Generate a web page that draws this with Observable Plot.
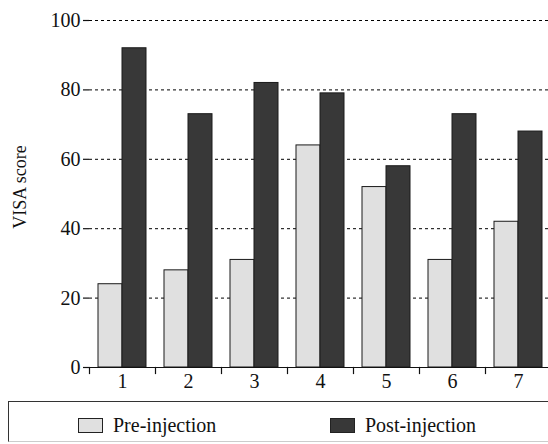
<!DOCTYPE html>
<html>
<head>
<meta charset="utf-8">
<script src="https://cdn.jsdelivr.net/npm/d3@7"></script>
<script src="https://cdn.jsdelivr.net/npm/@observablehq/plot@0.6"></script>
<style>
  html, body { margin: 0; padding: 0; background: #fff; overflow: hidden; }
  #wrap { position: relative; width: 548px; height: 444px; font-family: "Liberation Serif", "Times New Roman", serif; }
  #legend { position: absolute; left: 8px; top: 401px; width: 560px; height: 41px; border: 1.5px solid #333; border-bottom-color: #ccc; box-sizing: border-box; }
  .item { position: absolute; top: 12px; display: flex; align-items: center; font-size: 20px; color: #111; }
  .sw { width: 25px; height: 15px; border: 1.3px solid #222; margin-right: 10px; box-sizing: border-box; }
</style>
</head>
<body>
<div id="wrap"></div>
<script>
const groups = ["1", "2", "3", "4", "5", "6", "7"];
const seriesNames = ["Pre-injection", "Post-injection"];
const preValues = [24, 28, 31, 64, 52, 31, 42];
const postValues = [92, 73, 82, 79, 58, 73, 68];
const yTicks = [0, 20, 40, 60, 80, 100];
const colors = ["#e0e0e0", "#383838"];

const data = [];
groups.forEach((g, i) => {
  data.push({group: g, series: seriesNames[0], value: preValues[i]});
  data.push({group: g, series: seriesNames[1], value: postValues[i]});
});

const font = '"Liberation Serif", "Times New Roman", serif';

const chart = Plot.plot({
  width: 548,
  height: 398,
  marginLeft: 88,
  marginRight: -4,
  marginTop: 20,
  marginBottom: 31,
  style: {fontFamily: font, fontSize: "20px", color: "#111", background: "white", overflow: "visible"},
  fx: {domain: groups, padding: 0, label: null},
  x: {domain: seriesNames, paddingInner: 0, paddingOuter: 0.375, axis: null},
  y: {domain: [0, 100], label: null},
  color: {domain: seriesNames, range: colors},
  marks: [
    Plot.gridY(yTicks.filter(d => d > 0), {stroke: "#000", strokeOpacity: 1, strokeWidth: 1, strokeDasharray: "3,3"}),
    Plot.barY(data, {fx: "group", x: "series", y: "value", fill: "series", stroke: "#1a1a1a", strokeWidth: 1}),
    Plot.ruleY([0], {stroke: "#111", strokeWidth: 1.2}),
    Plot.frame({anchor: "left", insetTop: 347, insetBottom: -6, stroke: "#111", strokeWidth: 1.2}),
    Plot.axisY(yTicks, {anchor: "left", tickSize: 6, tickPadding: 3, line: true, stroke: "#111", strokeWidth: 1.2, label: null, fontSize: 20}),
    Plot.axisFx({anchor: "bottom", tickSize: 0, tickPadding: 6, label: null, fontSize: 20}),
    Plot.text(["VISA score"], {frameAnchor: "left", textAnchor: "middle", dx: -69, dy: -7, rotate: -90, fontSize: 18, fill: "#111", facet: "super"})
  ]
});

const wrap = document.getElementById("wrap");
wrap.appendChild(chart);

const legend = document.createElement("div");
legend.id = "legend";
const positions = [69, 321];
seriesNames.forEach((name, i) => {
  const item = document.createElement("div");
  item.className = "item";
  item.style.left = positions[i] + "px";
  const sw = document.createElement("div");
  sw.className = "sw";
  sw.style.background = colors[i];
  const label = document.createElement("span");
  label.textContent = name;
  item.appendChild(sw);
  item.appendChild(label);
  legend.appendChild(item);
});
wrap.appendChild(legend);
</script>
</body>
</html>
